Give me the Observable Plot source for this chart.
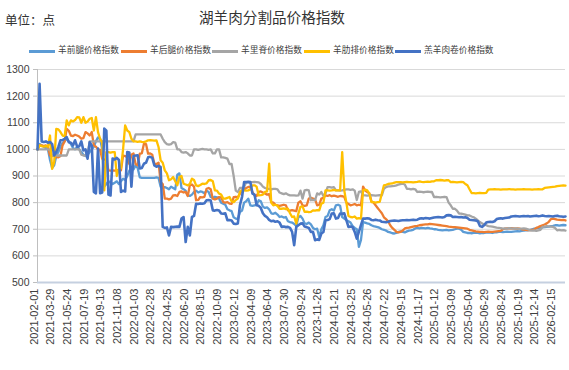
<!DOCTYPE html>
<html><head><meta charset="utf-8">
<script src="https://cdn.jsdelivr.net/npm/d3@7"></script>
<script src="https://cdn.jsdelivr.net/npm/@observablehq/plot@0.6"></script>
<style>
body{margin:0;background:#fff;}
#wrap{position:relative;width:569px;height:370px;overflow:hidden;font-family:"Noto Sans CJK SC","Noto Sans",sans-serif;color:#404040;}
#head{position:relative;height:60px;}
#title{position:absolute;left:199px;top:10px;font-size:14.6px;line-height:1;color:#333;white-space:nowrap;}
#unit{position:absolute;left:5px;top:14px;font-size:12.5px;line-height:1;color:#333;white-space:nowrap;}
.li{position:absolute;top:45px;height:12px;white-space:nowrap;}
.sw{position:absolute;left:0;top:5px;width:26px;height:3px;}
.lt{position:absolute;left:29px;top:1px;font-size:8.7px;line-height:1;color:#404040;}
svg{display:block;}
</style></head>
<body><div id="wrap"><div id="head"><div id="unit">单位：点</div><div id="title">湖羊肉分割品价格指数</div><div id="legend"></div></div><div id="chart"></div></div>
<script>
const seriesNames = ["羊前腿价格指数","羊后腿价格指数","羊里脊价格指数","羊肋排价格指数","羔羊肉卷价格指数"];
const seriesColors = ["#5B9BD5","#ED7D31","#A5A5A5","#FFC000","#4472C4"];
const tickLabels = ["2021-02-01","2021-03-29","2021-05-24","2021-07-19","2021-09-13","2021-11-08","2022-01-03","2022-02-28","2022-04-25","2022-06-20","2022-08-15","2022-10-09","2023-02-12","2023-04-09","2023-06-04","2023-07-30","2023-09-24","2023-11-26","2024-01-21","2024-03-25","2024-05-26","2024-07-22","2024-09-15","2024-11-17","2025-01-12","2025-03-09","2025-05-04","2025-06-29","2025-08-24","2025-10-19","2025-12-14","2026-02-15"];
const tickIndex = [0,8,16,24,32,40,48,56,64,72,80,88,96,104,112,120,128,136,144,152,160,168,176,184,192,200,208,216,224,232,240,248];
const yTicks = [500,600,700,800,900,1000,1100,1200,1300];

const frontLeg = [1000,1020,1015,1010,1005,1000,960,930,940,975,990,1010,1025,1030,1040,1030,1020,1005,1000,1010,1000,990,980,975,980,990,1000,1010,1030,1045,1040,1000,860,870,880,875,870,875,880,870,880,890,885,900,920,930,925,940,930,895,893,893,893,893,893,893,893,895,893,860,855,858,855,850,860,855,850,905,910,855,850,845,827,825,830,840,845,838,842,840,835,845,840,821,818,822,820,815,800,796,792,775,771,768,745,740,738,765,770,800,805,815,790,788,790,792,809,805,785,780,782,775,760,758,762,755,746,748,744,746,730,727,725,720,712,745,750,740,722,720,725,718,705,700,702,671,700,715,746,750,771,775,770,790,792,788,746,740,734,730,725,712,705,700,634,660,727,725,722,720,715,712,710,708,705,700,698,695,690,688,685,684,686,690,692,690,688,692,695,696,698,703,705,703,705,704,703,705,703,702,700,700,698,697,696,697,698,696,697,698,700,702,702,698,690,688,686,686,685,686,687,686,685,686,686,687,688,687,686,688,688,690,690,689,690,691,690,690,691,692,693,692,694,695,696,696,698,700,702,703,705,706,707,708,709,710,712,713,715,715,714,715,716,715];
const hindLeg = [1000,1015,1015,1012,1015,1010,977,975,977,971,970,975,1015,1030,1077,1070,1052,1050,1055,1052,1048,1040,1042,1065,1060,1052,1065,1015,1010,1000,998,965,962,960,921,920,921,920,921,922,921,977,975,970,945,980,985,945,940,984,985,1021,1020,984,985,980,946,945,950,877,870,815,815,812,815,827,828,825,840,842,838,840,825,865,868,860,809,810,821,820,822,852,855,850,815,812,815,821,820,802,800,802,796,795,821,822,820,834,846,848,855,859,859,840,827,825,840,842,838,834,830,832,802,800,792,790,788,790,792,790,771,770,772,770,768,800,805,790,788,790,815,818,815,812,790,792,815,818,827,825,828,824,826,824,822,825,824,822,800,795,790,792,795,790,792,790,860,845,840,835,805,800,790,780,770,760,745,738,730,715,705,698,690,688,690,695,703,705,706,708,710,712,713,715,716,717,718,718,720,719,718,717,716,715,714,713,712,710,709,708,708,707,706,705,704,703,702,698,696,694,692,691,690,690,689,690,691,690,690,691,692,693,694,700,702,703,703,704,703,702,703,702,700,699,698,697,697,698,699,705,708,712,715,718,722,728,738,740,738,736,735,734,735,733];
const loin = [1000,1000,1000,1000,1000,1000,998,977,977,977,977,977,977,977,977,1000,1000,1000,1000,1000,1000,980,977,977,980,1030,1030,1030,1030,1030,1030,1030,1030,1030,1030,1030,1030,1030,1030,1030,1030,1030,1030,1030,1030,1030,1030,1056,1056,1056,1056,1056,1056,1056,1056,1056,1056,1056,1056,1056,1040,1027,1020,1018,1020,1027,1025,1000,1000,990,988,990,985,977,977,1000,1000,998,1000,1002,1000,1000,998,1000,985,985,1000,1000,970,970,968,965,945,945,900,845,840,855,855,858,877,877,876,877,878,877,876,870,860,855,852,852,850,852,852,850,838,835,832,835,830,827,827,827,826,827,845,815,846,848,846,809,810,809,835,830,840,825,835,858,858,856,858,846,846,845,846,848,850,850,848,850,845,810,840,842,828,827,826,827,828,827,826,827,828,827,852,858,861,861,862,863,865,868,870,871,868,852,852,850,852,850,840,841,840,839,840,841,840,840,821,822,821,820,821,822,821,800,790,777,777,770,759,759,757,755,752,752,748,745,740,733,727,722,718,715,712,711,710,708,706,705,704,702,703,702,704,703,702,703,702,701,702,703,702,700,696,695,696,694,696,698,709,710,712,711,710,709,705,696,698,696,697,695];
const ribs = [1000,1015,1012,1010,1012,1010,1052,927,952,1077,1075,1065,1052,1050,1109,1090,1109,1105,1110,1121,1120,1100,1121,1100,1105,1115,1118,1071,1121,1065,1040,1027,846,990,990,988,990,990,900,925,930,1000,1090,1071,1065,1040,1030,1030,1028,1030,1028,1027,1030,1034,1035,1034,1033,1034,1009,959,950,921,910,884,888,896,880,865,896,900,871,868,865,870,890,885,865,862,866,871,870,872,884,885,880,846,845,834,830,815,815,818,821,805,802,810,815,840,846,846,845,846,850,865,865,860,827,828,830,840,842,946,800,790,792,788,777,777,778,776,777,760,746,748,721,759,784,786,765,766,764,765,771,770,772,771,796,800,846,846,845,846,848,846,846,846,990,846,800,750,746,745,748,740,742,740,846,849,846,834,802,802,800,802,803,834,865,867,870,871,872,875,877,877,877,876,877,878,877,877,876,877,878,880,878,877,878,879,878,880,880,884,884,885,884,883,884,884,877,878,877,876,877,878,877,870,865,850,836,836,835,836,837,836,836,837,849,850,850,851,850,850,849,850,850,850,851,850,850,849,850,850,850,851,850,850,850,849,850,850,851,850,850,855,856,857,858,859,860,862,863,864,865,864];
const lambRoll = [1000,1246,1030,1028,1030,1025,1028,1020,977,990,1009,1034,1035,1040,1046,1027,1025,1015,1034,1010,1012,1030,996,1000,965,1027,1015,840,835,1003,835,838,1078,1070,830,827,966,962,968,960,840,845,842,990,988,860,975,977,978,928,930,946,950,970,972,968,940,935,938,934,709,705,707,677,709,708,709,710,709,740,746,652,709,677,746,750,796,795,797,796,798,809,810,808,771,770,772,770,759,758,760,734,735,733,721,720,722,790,821,877,877,878,877,834,830,790,788,780,760,750,745,735,730,732,728,730,725,709,710,708,709,705,690,640,709,715,721,722,710,708,705,690,690,659,662,660,684,690,734,735,738,759,760,740,742,759,758,760,734,709,710,708,690,665,690,715,740,740,741,740,735,734,736,734,733,728,727,726,728,731,732,733,732,731,733,734,734,735,734,735,736,735,736,740,741,740,742,741,740,742,744,745,746,745,744,746,752,753,752,746,747,746,745,746,744,745,742,736,735,734,733,730,712,709,715,725,727,728,727,730,738,740,741,740,742,743,744,748,749,750,749,748,749,750,749,750,748,749,750,751,749,750,752,750,749,750,749,748,750,751,749,748,747,748];

const allSeries = [frontLeg, hindLeg, loin, ribs, lambRoll];
const N = frontLeg.length;

// legend
const legendX = [29,121,212,304,395];
const lg = document.getElementById("legend");
seriesNames.forEach((name,k)=>{
  const it = document.createElement("div"); it.className="li"; it.style.left=legendX[k]+"px";
  const sw = document.createElement("div"); sw.className="sw"; sw.style.background=seriesColors[k];
  const t = document.createElement("div"); t.className="lt"; t.textContent=name;
  it.appendChild(sw); it.appendChild(t); lg.appendChild(it);
});

const lineMarks = allSeries.map((s,k)=>Plot.lineY(s, {x:(d,i)=>i, y:d=>d, stroke: seriesColors[k], strokeWidth: k===4?2.6:2.3, strokeLinejoin:"round", strokeLinecap:"round"}));

const chart = Plot.plot({
  width: 569, height: 310,
  marginTop: 9, marginRight: 4, marginBottom: 88, marginLeft: 37,
  style: {fontFamily: '"Liberation Sans", Arial, sans-serif', background: "transparent", overflow:"visible"},
  x: {type: "linear", domain: [0, N-1], axis: null},
  y: {domain: [500, 1300], axis: null},
  marks: [
    Plot.ruleY(yTicks.filter(v=>v>500), {stroke: "#d9d9d9", strokeWidth: 1}),
    Plot.ruleX([0], {y1: 500, y2: 1300, stroke: "#bfbfbf", strokeWidth: 1}),
    Plot.axisY({ticks: yTicks, tickSize: 4, tickPadding: 4, stroke: "#bfbfbf", fill: "#404040", fontSize: 10.5, tickFormat: d=>String(d), label: null}),
    ...lineMarks,
    Plot.ruleY([500], {stroke: "#c5d0e0", strokeWidth: 2}),
    Plot.text(tickIndex, {x: d=>d, text: (d,i)=>tickLabels[i], frameAnchor: "bottom", rotate: -90, textAnchor: "end", dy: 6, fontSize: 11, fill: "#404040", letterSpacing: 0.2})
  ]
});
document.getElementById("chart").appendChild(chart);
</script></body></html>
